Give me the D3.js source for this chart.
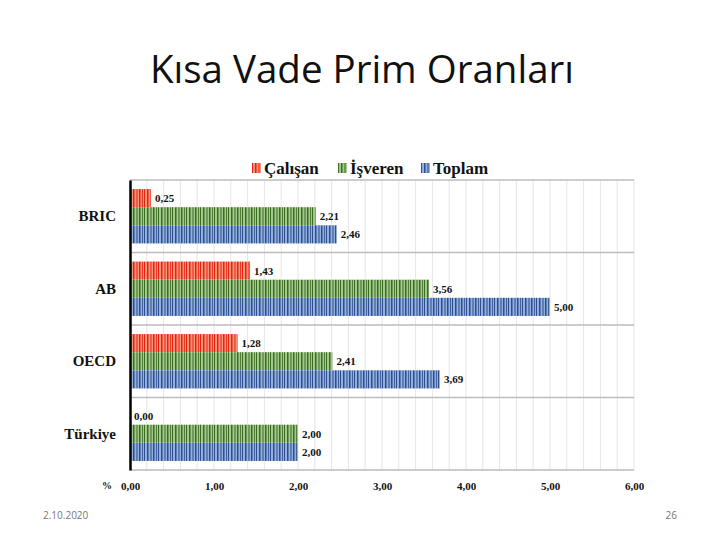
<!DOCTYPE html>
<html>
<head>
<meta charset="utf-8">
<script src="https://cdn.jsdelivr.net/npm/d3@7"></script>
<style>
  body { margin: 0; background: #fff; }
  svg { display: block; }
</style>
</head>
<body>
<div id="chart"></div>
<script>
// Chart data
const categories = ["BRIC", "AB", "OECD", "Türkiye"];
const seriesNames = ["Çalışan", "İşveren", "Toplam"];
const calisan = [0.25, 1.43, 1.28, 0.00];
const isveren = [2.21, 3.56, 2.41, 2.00];
const toplam = [2.46, 5.00, 3.69, 2.00];
const tickValues = [0, 1, 2, 3, 4, 5, 6];

const seriesValues = [calisan, isveren, toplam];
const seriesColors = [
    {light: "#f7957d", dark: "#e5240f"},
    {light: "#a2c98c", dark: "#3d6c23"},
    {light: "#93afde", dark: "#2d4e8f"}
];

const W = 720, H = 540;
const margin = {top: 180, right: 86, bottom: 70, left: 130};
const width = W - margin.left - margin.right;
const height = H - margin.top - margin.bottom;

const fmt = v => d3.format(".2f")(v).replace(".", ",");

const svg = d3.select("#chart")
    .append("svg")
    .attr("width", W)
    .attr("height", H);

// striped patterns, one per series
const defs = svg.append("defs");
seriesColors.forEach((c, i) => {
    const p = defs.append("pattern")
        .attr("id", "stripe" + i)
        .attr("patternUnits", "userSpaceOnUse")
        .attr("width", 14)
        .attr("height", 20);
    p.append("rect").attr("width", 14).attr("height", 20).attr("fill", c.light);
    [[0, 1], [3, 1.5], [6.5, 1], [9, 1.5], [12, 0.8]].forEach(s => {
        p.append("rect").attr("x", s[0]).attr("width", s[1]).attr("height", 20).attr("fill", c.dark);
    });
});

// Title
svg.append("text")
    .attr("x", 362)
    .attr("y", 83)
    .attr("text-anchor", "middle")
    .style("font-family", "'Open Sans', sans-serif")
    .style("font-size", "38.5px")
    .style("fill", "#111")
    .text("Kısa Vade Prim Oranları");

// Footer
svg.append("text")
    .attr("x", 43).attr("y", 519)
    .style("font-family", "'Open Sans', sans-serif")
    .style("font-size", "10px")
    .style("fill", "#777")
    .text("2.10.2020");
svg.append("text")
    .attr("x", 677).attr("y", 519)
    .attr("text-anchor", "end")
    .style("font-family", "'Open Sans', sans-serif")
    .style("font-size", "10px")
    .style("fill", "#777")
    .text("26");

const g = svg.append("g")
    .attr("transform", `translate(${margin.left}, ${margin.top})`);

const x = d3.scaleLinear()
    .domain([0, 6])
    .range([0, width]);

const y = d3.scaleBand()
    .domain(categories)
    .range([0, height]);

const ySub = d3.scaleBand()
    .domain(d3.range(seriesNames.length))
    .range([0, y.bandwidth()])
    .paddingOuter(0.5)
    .paddingInner(0);

// vertical gridlines every 0.2
g.append("g")
    .selectAll("line")
    .data(d3.range(1, 31).map(d => d / 5))
    .join("line")
    .attr("x1", d => x(d)).attr("x2", d => x(d))
    .attr("y1", 0).attr("y2", height)
    .attr("stroke", "#e6e6e6")
    .attr("stroke-width", 1);

// horizontal separators between groups
g.append("g")
    .selectAll("line")
    .data(categories.concat(["end"]))
    .join("line")
    .attr("x1", 0).attr("x2", width)
    .attr("y1", (d, i) => i < categories.length ? y(d) : height)
    .attr("y2", (d, i) => i < categories.length ? y(d) : height)
    .attr("stroke", "#bdbdbd")
    .attr("stroke-width", 1.5);

// bars
const groups = g.selectAll(".grp")
    .data(categories)
    .join("g")
    .attr("class", "grp")
    .attr("transform", d => `translate(0, ${y(d)})`);

groups.each(function(cat, ci) {
    const grp = d3.select(this);
    seriesValues.forEach((vals, si) => {
        const v = vals[ci];
        grp.append("rect")
            .attr("x", 0)
            .attr("y", ySub(si))
            .attr("width", x(v))
            .attr("height", ySub.bandwidth())
            .attr("fill", `url(#stripe${si})`);
        grp.append("text")
            .attr("x", x(v) + 4)
            .attr("y", ySub(si) + ySub.bandwidth() / 2 + 4)
            .style("font-family", "'Liberation Serif', serif")
            .style("font-weight", "bold")
            .style("font-size", "11px")
            .style("fill", "#111")
            .text(fmt(v));
    });
});

// Y axis (category labels)
g.append("g")
    .call(d3.axisLeft(y).tickSize(0).tickPadding(14))
    .call(a => a.select(".domain").attr("stroke", "#000").attr("stroke-width", 2.5))
    .selectAll("text")
    .style("font-family", "'Liberation Serif', serif")
    .style("font-weight", "bold")
    .style("font-size", "15px")
    .style("fill", "#111");

// X axis
g.append("g")
    .attr("transform", `translate(0, ${height})`)
    .call(d3.axisBottom(x).tickValues(tickValues).tickFormat(fmt).tickSize(0).tickPadding(12))
    .call(a => a.select(".domain").remove())
    .selectAll("text")
    .style("font-family", "'Liberation Serif', serif")
    .style("font-weight", "bold")
    .style("font-size", "11px")
    .style("fill", "#111");

g.append("text")
    .attr("x", -23)
    .attr("y", height + 19)
    .attr("text-anchor", "middle")
    .style("font-family", "'Liberation Serif', serif")
    .style("font-weight", "bold")
    .style("font-size", "10px")
    .style("fill", "#111")
    .text("%");

// Legend
const legendX = [252, 338, 421];
const legend = svg.append("g")
    .selectAll("g")
    .data(seriesNames)
    .join("g")
    .attr("transform", (d, i) => `translate(${legendX[i]}, 163)`);
legend.append("rect")
    .attr("width", 9).attr("height", 10)
    .attr("fill", (d, i) => `url(#stripe${i})`);
legend.append("text")
    .attr("x", 12).attr("y", 11)
    .style("font-family", "'Liberation Serif', serif")
    .style("font-weight", "bold")
    .style("font-size", "17px")
    .style("fill", "#111")
    .text(d => d);
</script>
</body>
</html>
